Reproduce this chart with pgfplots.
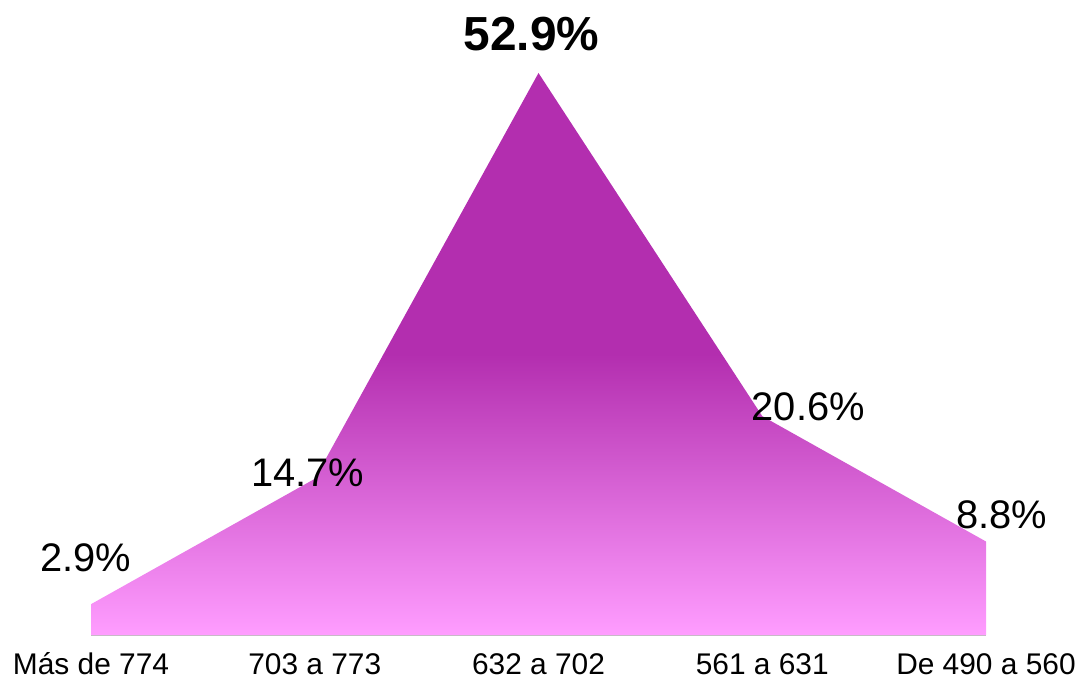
\documentclass[border=0pt]{standalone}
\usepackage{pgfplots}
\pgfplotsset{compat=1.18}
\usepackage{fontspec}
\setmainfont{Liberation Sans}
\definecolor{purp}{HTML}{B32EAF}
\definecolor{pinkb}{HTML}{FF9DFF}
\pgfdeclareverticalshading{areashade}{100bp}{color(0bp)=(pinkb); color(25bp)=(pinkb); color(50bp)=(purp); color(75bp)=(purp); color(100bp)=(purp)}
\begin{document}
\begin{tikzpicture}
\useasboundingbox (0,0) rectangle (1082bp,682bp);
\begin{axis}[
  at={(91bp,47bp)}, anchor=south west,
  width=895bp, height=562bp, scale only axis,
  xmin=0, xmax=4, ymin=0, ymax=52.9,
  clip=false,
  axis x line=bottom, axis y line=none,
  x axis line style={draw=black!25, line width=1bp, -},
  xtick={0,1,2,3,4},
  xticklabels={Más de 774, 703 a 773, 632 a 702, 561 a 631, De 490 a 560},
  major tick length=0pt,
  xticklabel style={font=\fontsize{30}{34}\selectfont, anchor=base, yshift=-39bp, inner sep=1bp},
  ytick=\empty,
]
\addplot[draw=none, shading=areashade] coordinates {(0,2.9)(1,14.7)(2,52.9)(3,20.6)(4,8.8)} \closedcycle;
\node[anchor=base, xshift=-5bp, yshift=33bp, font=\fontsize{40}{48}\selectfont] at (axis cs:0,2.9) {2.9\%};
\node[anchor=base, xshift=-7bp, yshift=-8bp, font=\fontsize{40}{48}\selectfont] at (axis cs:1,14.7) {14.7\%};
\node[anchor=base, xshift=-7bp, yshift=22bp, font=\fontsize{48}{56}\selectfont\bfseries] at (axis cs:2,52.9) {52.9\%};
\node[anchor=base, xshift=46bp, yshift=-4bp, font=\fontsize{40}{48}\selectfont] at (axis cs:3,20.6) {20.6\%};
\node[anchor=base, xshift=16bp, yshift=13bp, font=\fontsize{40}{48}\selectfont] at (axis cs:4,8.8) {8.8\%};
\end{axis}
\end{tikzpicture}
\end{document}
